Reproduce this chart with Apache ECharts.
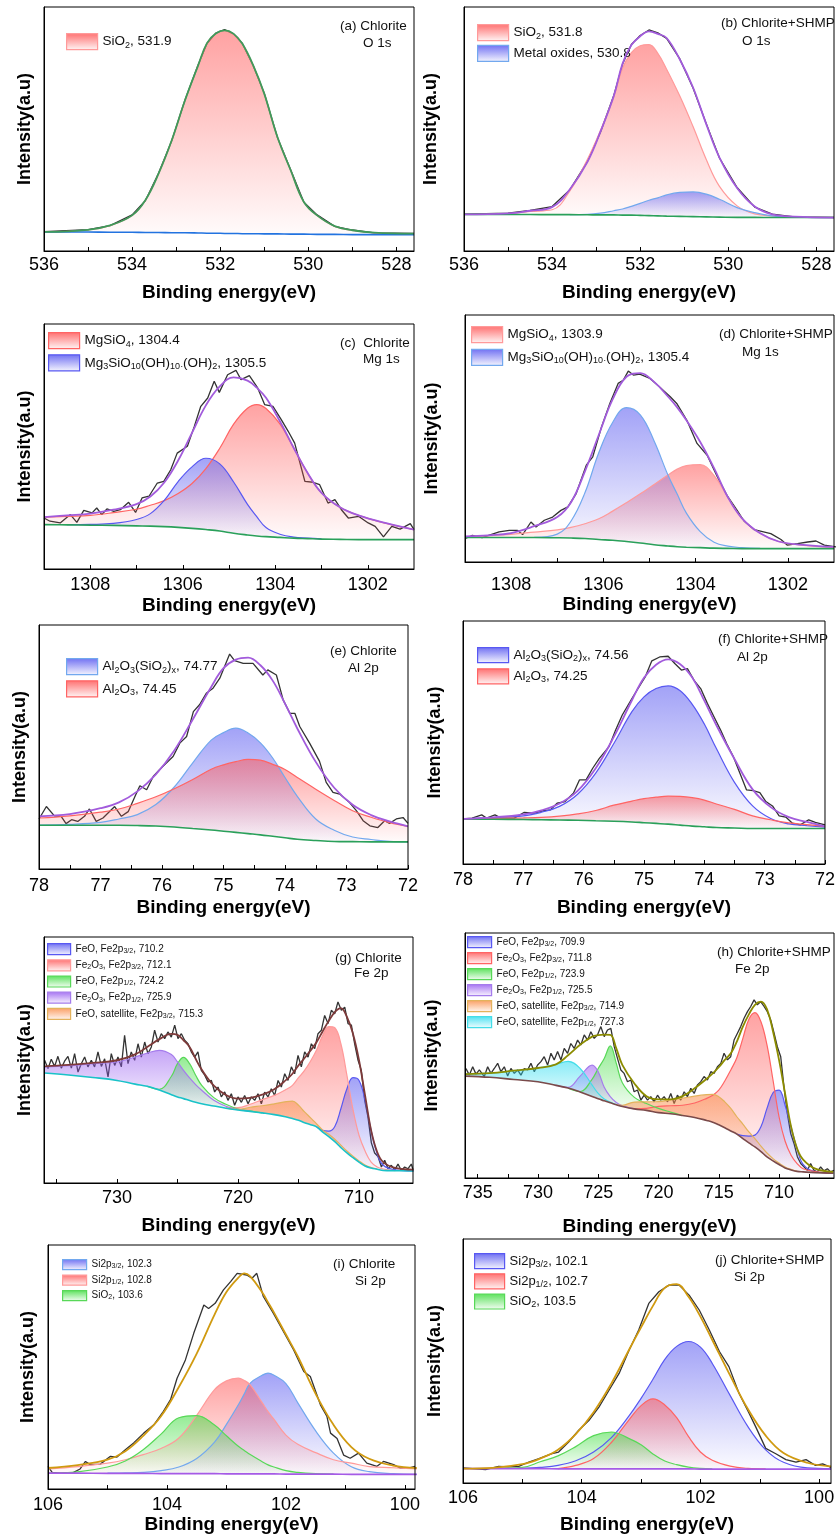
<!DOCTYPE html>
<html>
<head>
<meta charset="utf-8">
<script src="https://cdn.jsdelivr.net/npm/echarts@6/dist/echarts.min.js"></script>
<style>
  html, body { margin: 0; padding: 0; background: #fff; }
  #c { width: 838px; height: 1537px; }
</style>
</head>
<body>
<div id="c"></div>
<script>
// ---------- tick values / labels ----------
const oTicks = [528, 529, 530, 531, 532, 533, 534, 535, 536];
const oLabels = [528, 530, 532, 534, 536];
const mgTicks = [1302, 1303, 1304, 1305, 1306, 1307, 1308];
const mgLabels = [1302, 1304, 1306, 1308];
const alTicks = [72, 72.5, 73, 73.5, 74, 74.5, 75, 75.5, 76, 76.5, 77, 77.5, 78];
const alLabels = [72, 73, 74, 75, 76, 77, 78];
const gTicks = [710, 715, 720, 725, 730, 735];
const gLabels = [710, 720, 730];
const hTicks = [707.5, 710, 712.5, 715, 717.5, 720, 722.5, 725, 727.5, 730, 732.5, 735];
const hLabels = [710, 715, 720, 725, 730, 735];
const siTicks = [100, 101, 102, 103, 104, 105, 106];
const siLabels = [100, 102, 104, 106];

// ---------- (a) Chlorite O 1s ----------
const aE = [536, 535, 534.5, 534, 533.7, 533.4, 533.1, 532.8, 532.5, 532.3, 532.1, 531.9, 531.7, 531.5, 531.25, 531.0, 530.7, 530.4, 530.1, 529.8, 529.4, 529, 528.5, 527.6];
const aBase = [7.8, 7.8, 7.7, 7.7, 7.6, 7.6, 7.5, 7.5, 7.4, 7.3, 7.3, 7.2, 7.2, 7.1, 7.1, 7.0, 7.0, 6.9, 6.9, 6.8, 6.8, 6.7, 6.7, 6.7];
const aEnv = [7.8, 8.7, 10.5, 14.6, 20.8, 31.7, 45.4, 61.7, 76.1, 85.2, 89.1, 90.4, 89.1, 85.0, 76.1, 64.5, 46.7, 33.1, 20.1, 14.6, 10.2, 8.5, 7.5, 7.1];
const aSiO2 = [7.8, 8.6, 10.4, 14.5, 20.7, 31.6, 45.3, 61.6, 76.0, 85.1, 89.0, 90.3, 89.0, 84.9, 76.0, 64.4, 46.6, 33.0, 20.0, 14.5, 10.1, 8.4, 7.4, 7.0];
const aRaw = [[536,7.9],[535,8.8],[534.5,10.4],[534,14.8],[533.7,20.6],[533.4,31.9],[533.1,45.2],[532.8,61.9],[532.5,76.3],[532.3,85.0],[532.1,89.3],[531.9,90.7],[531.7,89.0],[531.5,85.2],[531.25,75.9],[531.0,64.7],[530.7,46.5],[530.4,33.3],[530.1,20.0],[529.8,14.8],[529.4,10.1],[529,8.6],[528.5,7.4],[527.6,7.2]];
const aNames = ['SiO_{2}, 531.9'];

// ---------- (b) Chlorite+SHMP O 1s ----------
const bE = [536, 535, 534.5, 534, 533.6, 533.2, 532.9, 532.6, 532.4, 532.2, 532, 531.8, 531.6, 531.4, 531.1, 530.8, 530.5, 530.2, 529.8, 529.4, 529, 528.5, 527.6];
const bBase = [15.0, 15.0, 14.95, 14.9, 14.9, 14.85, 14.8, 14.8, 14.7, 14.7, 14.6, 14.5, 14.4, 14.3, 14.2, 14.1, 14.0, 13.9, 13.8, 13.8, 13.7, 13.7, 13.7];
const bEnv = [15.0, 15.4, 16.5, 18.0, 25.2, 36.4, 49.0, 63.5, 76.8, 84.4, 88.0, 90.0, 89.0, 87.3, 78.5, 67.0, 52.0, 38.3, 25.8, 18.2, 15.0, 14.1, 13.7];
const bSiO2 = [15.0, 15.3, 16.2, 16.9, 24.5, 37.5, 49.5, 63.1, 75.0, 81.3, 84.1, 84.6, 81.0, 74.5, 63.5, 51.0, 37.5, 26.5, 18.5, 15.2, 14.4, 14.0, 13.7];
const bMetal = [15.0, 15.0, 14.95, 14.9, 14.9, 15.0, 15.5, 16.5, 17.2, 18.3, 19.5, 20.8, 21.8, 23.0, 24.0, 24.2, 23.3, 21.2, 17.8, 15.7, 14.4, 13.9, 13.7];
const bRaw = [[536,15.1],[535,15.5],[534.5,16.6],[534,18.2],[533.6,25.0],[533.2,36.6],[532.9,48.8],[532.6,63.7],[532.4,76.6],[532.2,84.6],[532,88.3],[531.8,90.6],[531.6,89.4],[531.4,87.1],[531.1,78.7],[530.8,66.8],[530.5,52.2],[530.2,38.1],[529.8,26.0],[529.4,18.0],[529,15.1],[528.5,14.0],[527.6,13.8]];
const bNames = ['SiO_{2}, 531.8', 'Metal oxides, 530.8'];

// ---------- (c) Chlorite Mg 1s ----------
const cE = [1309, 1308.5, 1308, 1307.5, 1307, 1306.7, 1306.4, 1306.1, 1305.8, 1305.5, 1305.2, 1304.9, 1304.6, 1304.4, 1304.2, 1303.9, 1303.6, 1303.3, 1303, 1302.6, 1302.2, 1301.6, 1301];
const cBase = [18.1, 18.0, 17.9, 17.8, 17.6, 17.5, 17.3, 17.0, 16.6, 16.1, 15.5, 14.6, 13.9, 13.5, 13.2, 12.9, 12.6, 12.4, 12.2, 12.1, 12.0, 12.0, 12.0];
const cEnv = [21.2, 21.9, 22.6, 24.2, 26.5, 29.6, 35.3, 44.3, 55.6, 66.8, 74.5, 78.2, 76.9, 74.0, 69.9, 60.3, 49.4, 39.2, 31.1, 25.2, 21.9, 18.7, 16.1];
const cMgSiO4 = [21.2, 21.5, 21.9, 23.0, 24.4, 26.0, 27.9, 30.8, 34.9, 41.0, 49.3, 59.1, 65.6, 67.1, 65.5, 59.2, 49.4, 39.2, 31.1, 25.2, 21.9, 18.6, 16.1];
const cMgOH = [18.1, 18.1, 18.2, 18.6, 20.2, 22.6, 28.0, 35.7, 41.7, 45.2, 42.9, 35.5, 26.4, 21.4, 16.9, 14.2, 13.0, 12.6, 12.3, 12.1, 12.0, 12.0, 12.0];
const cRaw = [[1309.0,20.8],[1308.87,19.5],[1308.65,18.8],[1308.43,22.2],[1308.29,19.0],[1308.14,23.9],[1307.96,22.9],[1307.86,24.9],[1307.75,22.2],[1307.64,24.5],[1307.49,23.5],[1307.35,24.2],[1307.17,27.2],[1307.02,23.1],[1306.88,29.0],[1306.73,29.7],[1306.55,35.1],[1306.41,35.8],[1306.26,40.5],[1306.12,47.3],[1305.90,50.1],[1305.75,58.2],[1305.61,66.4],[1305.46,69.8],[1305.32,76.6],[1305.21,72.1],[1305.03,79.3],[1304.85,81.1],[1304.74,77.3],[1304.56,78.9],[1304.38,73.9],[1304.23,67.1],[1304.05,66.4],[1303.87,61.0],[1303.72,56.2],[1303.58,51.4],[1303.36,35.8],[1303.18,35.4],[1303.04,34.4],[1302.86,26.9],[1302.71,28.3],[1302.57,24.2],[1302.42,20.8],[1302.20,21.5],[1301.99,18.8],[1301.84,17.4],[1301.66,13.1],[1301.48,17.4],[1301.30,16.3],[1301.08,18.5],[1301.0,16.1]];
const cNames = ['MgSiO_{4}, 1304.4', 'Mg_{3}SiO_{10}(OH)_{10·}(OH)_{2}, 1305.5'];

// ---------- (d) Chlorite+SHMP Mg 1s ----------
const dE = [1309, 1308.5, 1308, 1307.5, 1307, 1306.7, 1306.4, 1306.1, 1305.8, 1305.5, 1305.2, 1304.9, 1304.6, 1304.4, 1304.2, 1303.9, 1303.6, 1303.3, 1303, 1302.6, 1302.2, 1301.6, 1301];
const dBase = [9.9, 9.9, 9.9, 9.9, 9.8, 9.7, 9.5, 9.1, 8.8, 8.3, 7.7, 7.0, 6.5, 6.2, 6.0, 5.8, 5.6, 5.5, 5.4, 5.4, 5.4, 5.4, 5.4];
const dEnv = [10.4, 10.8, 11.7, 14.5, 18.2, 24.2, 36.7, 51.4, 65.8, 75.0, 76.5, 72.9, 67.0, 62.6, 57.4, 48.6, 38.0, 26.2, 17.8, 11.6, 8.3, 6.8, 6.1];
const dMgSiO4 = [10.1, 10.6, 11.2, 12.1, 13.0, 14.0, 15.5, 17.5, 20.6, 24.0, 27.6, 31.4, 35.2, 37.6, 39.0, 39.4, 35.0, 26.2, 17.8, 11.6, 8.3, 6.6, 5.8];
const dMgOH = [9.9, 9.9, 9.9, 10.0, 11.3, 16.6, 28.0, 44.2, 56.5, 62.5, 59.6, 49.0, 35.2, 27.5, 19.8, 12.3, 8.0, 6.4, 5.8, 5.5, 5.4, 5.4, 5.4];
const dRaw = [[1308.99,9.5],[1308.84,10.8],[1308.63,9.9],[1308.44,11.1],[1308.26,12.2],[1308.04,12.8],[1307.86,12.8],[1307.75,11.1],[1307.57,16.2],[1307.46,14.2],[1307.28,16.9],[1307.10,18.2],[1306.92,20.9],[1306.77,22.3],[1306.59,27.7],[1306.37,39.2],[1306.23,42.6],[1306.04,54.7],[1305.86,64.2],[1305.68,72.3],[1305.57,73.6],[1305.46,77.3],[1305.35,75.7],[1305.21,76.1],[1304.99,74.3],[1304.77,70.7],[1304.55,66.9],[1304.41,64.2],[1304.19,57.4],[1303.97,48.0],[1303.75,43.2],[1303.53,34.5],[1303.32,27.0],[1303.10,20.9],[1302.95,16.6],[1302.73,13.1],[1302.37,11.5],[1302.15,9.1],[1302.01,6.8],[1301.79,7.4],[1301.57,8.1],[1301.39,8.5],[1301.21,6.8],[1300.95,6.1]];
const dNames = ['MgSiO_{4}, 1303.9', 'Mg_{3}SiO_{10}(OH)_{10·}(OH)_{2}, 1305.4'];

// ---------- (e) Chlorite Al 2p ----------
const eE = [78, 77.5, 77, 76.7, 76.4, 76.1, 75.8, 75.5, 75.2, 75, 74.8, 74.6, 74.4, 74.2, 74, 73.8, 73.5, 73.2, 72.9, 72.6, 72.3, 72];
const eBase = [17.9, 17.9, 17.9, 17.9, 17.8, 17.6, 17.2, 16.6, 16.0, 15.5, 15.0, 14.5, 14.0, 13.4, 12.8, 12.2, 11.7, 11.3, 11.2, 11.1, 11.1, 11.1];
const eEnv = [21.6, 22.5, 24.9, 27.3, 31.8, 38.8, 48.6, 61.3, 74.6, 82.3, 85.8, 86.6, 83.5, 77.2, 67.8, 57.6, 43.9, 33.3, 26.3, 22.1, 19.5, 17.5];
const eAlSi = [18.0, 18.3, 19.1, 20.5, 22.3, 26.4, 33.6, 43.5, 52.8, 55.9, 57.7, 55.7, 51.7, 45.5, 37.5, 29.8, 20.5, 15.9, 13.1, 12.1, 11.3, 11.1];
const eAl2O3 = [20.9, 21.8, 23.3, 24.6, 26.9, 29.6, 32.9, 36.7, 40.9, 42.7, 44.0, 44.9, 44.6, 42.9, 40.8, 37.5, 32.7, 28.1, 23.9, 21.2, 19.0, 17.5];
const eRaw = [[78.00,20.5],[77.88,25.6],[77.75,21.8],[77.64,21.6],[77.56,18.6],[77.47,20.2],[77.37,19.5],[77.26,21.6],[77.18,24.6],[77.07,19.5],[76.96,20.9],[76.77,25.6],[76.66,21.6],[76.55,23.5],[76.44,29.7],[76.36,34.1],[76.25,32.5],[76.14,38.0],[76.04,40.7],[75.93,43.4],[75.82,46.1],[75.71,51.6],[75.60,54.3],[75.49,64.5],[75.39,67.3],[75.28,72.0],[75.17,74.1],[75.06,78.2],[74.90,88.1],[74.82,85.4],[74.68,84.3],[74.52,84.3],[74.36,79.5],[74.28,81.6],[74.14,79.5],[74.03,69.3],[73.92,63.8],[73.84,63.8],[73.76,58.4],[73.60,51.6],[73.44,44.2],[73.33,35.5],[73.22,31.4],[73.11,30.7],[72.95,27.2],[72.84,23.9],[72.73,19.8],[72.62,17.7],[72.49,17.0],[72.38,19.8],[72.30,18.7],[72.19,20.5],[72.08,21.1],[72.00,18.7]];
const eNames = ['Al_{2}O_{3}(SiO_{2})_{x}, 74.77', 'Al_{2}O_{3}, 74.45'];

// ---------- (f) Chlorite+SHMP Al 2p ----------
const fE = [78, 77.5, 77, 76.7, 76.4, 76.1, 75.8, 75.5, 75.2, 75, 74.8, 74.6, 74.4, 74.2, 74, 73.8, 73.5, 73.2, 72.9, 72.6, 72.3, 72];
const fBase = [18.5, 18.4, 18.3, 18.2, 18.1, 18.0, 17.8, 17.6, 17.3, 17.0, 16.7, 16.4, 16.0, 15.6, 15.3, 15.0, 14.8, 14.6, 14.6, 14.6, 14.6, 14.6];
const fEnv = [18.6, 19.2, 20.4, 22.1, 24.9, 30.1, 39.4, 52.3, 67.4, 76.6, 82.0, 84.2, 82.2, 76.7, 67.2, 57.1, 43.2, 30.7, 23.4, 19.3, 17.3, 15.5];
const fAlSi = [18.6, 19.1, 19.8, 21.3, 23.7, 28.7, 37.4, 49.6, 62.7, 68.8, 72.2, 73.3, 71.3, 65.7, 57.6, 47.5, 33.6, 23.9, 18.7, 16.5, 15.8, 15.2];
const fAl2O3 = [18.5, 18.8, 19.0, 19.2, 19.7, 20.6, 22.0, 24.2, 25.9, 26.9, 27.5, 27.9, 27.8, 27.3, 26.3, 24.7, 22.5, 19.8, 18.2, 16.9, 16.2, 15.5];
const fRaw = [[78.00,18.6],[77.85,18.9],[77.69,20.2],[77.61,18.9],[77.47,20.2],[77.37,18.9],[77.15,18.9],[76.99,21.2],[76.82,20.9],[76.66,22.0],[76.55,22.3],[76.44,25.0],[76.31,25.7],[76.17,29.1],[76.07,34.6],[75.96,34.6],[75.85,39.4],[75.74,43.5],[75.58,48.3],[75.47,55.1],[75.36,61.3],[75.20,68.1],[74.98,77.0],[74.87,83.6],[74.74,85.2],[74.60,85.5],[74.49,82.5],[74.38,79.8],[74.28,80.4],[74.17,75.6],[74.06,72.2],[73.95,66.1],[73.84,60.6],[73.73,55.1],[73.63,49.6],[73.52,44.2],[73.41,37.3],[73.30,30.5],[73.19,30.2],[73.08,29.4],[72.98,25.7],[72.87,23.9],[72.76,19.8],[72.65,19.3],[72.54,16.8],[72.41,16.1],[72.27,18.2],[72.16,17.1],[72.00,16.1]];
const fNames = ['Al_{2}O_{3}(SiO_{2})_{x}, 74.56', 'Al_{2}O_{3}, 74.25'];

// ---------- (g) Chlorite Fe 2p ----------
const gE = [736, 734, 732, 730, 728.5, 727.5, 726.5, 725.5, 725, 724.5, 724, 723.5, 723, 722, 721, 720, 719, 718, 717, 716, 715.5, 715, 714.5, 714, 713.5, 713, 712.5, 712, 711.5, 711, 710.5, 710, 709.5, 709, 708.5, 708, 707, 705.5];
const gBase = [44.7, 43.9, 42.9, 41.7, 40.2, 39.3, 37.8, 35.9, 35.0, 34.3, 33.5, 32.8, 32.2, 31.3, 30.4, 29.7, 29.1, 28.5, 27.8, 26.8, 26.2, 25.5, 24.5, 23.7, 22.8, 20.7, 18.9, 16.8, 14.4, 12.2, 10.3, 8.5, 6.9, 6.1, 5.6, 5.1, 5.0, 4.9];
const gEnv = [47.4, 48.0, 48.8, 49.9, 52.3, 55.3, 58.5, 60.6, 60.2, 58.0, 55.3, 50.5, 46.1, 39.6, 35.8, 34.3, 34.6, 35.9, 38.1, 42.0, 44.4, 47.8, 50.8, 53.9, 57.3, 61.7, 65.9, 69.5, 71.1, 67.5, 60.7, 49.9, 35.6, 21.4, 12.6, 8.5, 6.1, 5.4];
const gFeO32 = [44.7, 43.9, 42.9, 41.7, 40.2, 39.3, 37.8, 35.9, 35.0, 34.3, 33.5, 32.8, 32.2, 31.3, 30.4, 29.7, 29.1, 28.5, 27.8, 26.8, 26.2, 25.5, 24.5, 23.7, 22.8, 21.4, 21.1, 23.0, 30.2, 38.3, 42.8, 41.7, 33.6, 21.4, 11.9, 7.2, 5.3, 4.9];
const gFe2O332 = [44.7, 43.9, 42.9, 41.7, 40.2, 39.3, 37.8, 35.9, 35.0, 34.3, 33.5, 32.8, 32.2, 31.3, 30.5, 30.6, 32.0, 33.9, 35.6, 38.1, 39.7, 42.8, 45.8, 49.6, 54.2, 60.0, 63.6, 63.1, 56.6, 43.8, 29.9, 19.4, 13.0, 8.5, 6.5, 5.7, 5.0, 4.9];
const gFeO12 = [44.7, 43.9, 42.9, 41.7, 40.2, 39.3, 38.1, 43.4, 48.5, 51.1, 48.5, 43.8, 39.7, 34.7, 32.0, 30.1, 29.3, 28.5, 27.8, 26.8, 26.2, 25.5, 24.5, 23.7, 22.8, 20.7, 18.9, 16.8, 14.4, 12.2, 10.3, 8.5, 6.9, 6.1, 5.6, 5.1, 5.0, 4.9];
const gFe2O312 = [47.2, 47.7, 48.5, 49.2, 51.2, 52.8, 53.9, 52.2, 49.2, 45.8, 42.7, 40.0, 37.7, 33.6, 31.2, 29.9, 29.1, 28.5, 27.8, 26.8, 26.2, 25.5, 24.5, 23.7, 22.8, 20.7, 18.9, 16.8, 14.4, 12.2, 10.3, 8.5, 6.9, 6.1, 5.6, 5.1, 5.0, 4.9];
const gSat32 = [44.7, 43.9, 42.9, 41.7, 40.2, 39.3, 37.8, 35.9, 35.0, 34.3, 33.5, 32.8, 32.2, 31.3, 30.4, 29.9, 30.8, 31.4, 32.2, 33.1, 33.3, 31.6, 28.9, 26.5, 24.0, 21.5, 19.8, 17.8, 15.4, 13.0, 10.9, 9.0, 7.3, 6.3, 5.7, 5.1, 5.0, 4.9];
const gRaw = [[735.98,49.9],[735.70,46.5],[735.43,50.3],[735.15,47.4],[734.88,51.5],[734.60,46.7],[734.33,49.5],[734.05,51.5],[733.77,46.7],[733.50,52.6],[733.22,45.1],[732.95,48.5],[732.67,51.2],[732.40,47.2],[732.12,49.9],[731.85,47.2],[731.57,53.3],[731.29,47.4],[731.02,50.5],[730.74,43.1],[730.47,52.6],[730.19,47.8],[729.92,51.2],[729.64,47.2],[729.37,60.0],[729.09,48.5],[728.82,53.3],[728.54,49.9],[728.26,56.6],[727.99,51.2],[727.71,57.3],[727.44,52.6],[727.16,55.3],[726.89,62.1],[726.61,57.3],[726.34,60.7],[726.06,58.7],[725.79,61.4],[725.51,59.3],[725.23,64.2],[724.96,58.7],[724.68,60.7],[724.41,58.0],[724.13,56.6],[723.86,53.3],[723.58,51.2],[723.31,53.3],[723.03,45.8],[722.75,43.8],[722.48,41.1],[722.20,41.7],[721.93,37.0],[721.65,39.0],[721.38,35.0],[721.10,37.0],[720.83,33.6],[720.55,36.3],[720.28,31.6],[720.00,35.0],[719.72,32.8],[719.45,35.6],[719.17,32.2],[718.90,35.0],[718.62,33.6],[718.35,36.3],[718.07,32.2],[717.80,36.9],[717.52,35.0],[717.25,38.3],[716.97,35.6],[716.69,41.7],[716.42,39.0],[716.14,44.4],[715.87,41.7],[715.59,47.2],[715.32,44.4],[715.04,51.9],[714.77,47.2],[714.49,53.3],[714.21,51.2],[713.94,56.6],[713.66,54.6],[713.39,60.7],[713.11,62.1],[712.84,68.1],[712.56,64.8],[712.29,70.2],[712.01,68.8],[711.74,73.6],[711.46,70.2],[711.18,71.5],[710.91,64.8],[710.63,64.2],[710.36,56.6],[710.08,49.9],[709.81,45.8],[709.53,33.6],[709.26,26.8],[708.98,16.3],[708.71,12.2],[708.43,10.8],[708.15,6.5],[707.88,9.2],[707.60,5.8],[707.33,7.2],[707.05,5.4],[706.78,7.7],[706.50,5.1],[706.23,6.5],[705.95,5.8],[705.68,7.7],[705.54,5.4]];
const gNames = ['FeO, Fe2p_{3/2}, 710.2', 'Fe_{2}O_{3}, Fe2p_{3/2}, 712.1', 'FeO, Fe2p_{1/2}, 724.2', 'Fe_{2}O_{3}, Fe2p_{1/2}, 725.9', 'FeO, satellite, Fe2p_{3/2}, 715.3'];

// ---------- (h) Chlorite+SHMP Fe 2p ----------
const hE = [736, 734, 732, 730, 728.5, 727.5, 726.5, 725.5, 725, 724.5, 724, 723.5, 723, 722, 721, 720, 719, 718, 717, 716, 715.5, 715, 714.5, 714, 713.5, 713, 712.5, 712, 711.5, 711, 710.5, 710, 709.5, 709, 708.5, 708, 707, 705.5];
const hBase = [41.6, 41.1, 40.2, 39.3, 37.8, 36.7, 35.1, 33.3, 32.3, 31.5, 30.7, 29.9, 29.2, 28.2, 27.6, 26.7, 26.2, 25.5, 24.7, 23.5, 22.8, 21.7, 20.5, 19.2, 17.9, 16.1, 14.3, 12.7, 10.8, 8.6, 7.0, 5.5, 4.1, 3.3, 2.7, 2.5, 2.2, 2.0];
const hEnv = [42.4, 42.8, 43.8, 44.9, 46.4, 50.1, 54.4, 57.7, 58.3, 58.5, 58.4, 52.9, 46.2, 38.6, 33.4, 32.1, 32.1, 33.4, 36.6, 40.5, 42.7, 45.2, 48.2, 50.9, 55.7, 61.8, 66.8, 70.7, 72.0, 68.9, 59.8, 48.2, 34.5, 20.9, 12.0, 7.5, 3.8, 2.5];
const hFeO32 = [41.6, 41.1, 40.2, 39.3, 37.8, 36.7, 35.1, 33.3, 32.3, 31.5, 30.7, 29.9, 29.2, 28.2, 27.6, 26.7, 26.2, 25.5, 24.7, 23.5, 22.8, 21.7, 20.5, 19.2, 17.9, 17.3, 17.1, 17.5, 20.9, 28.4, 34.8, 35.9, 29.7, 20.9, 12.0, 5.6, 2.6, 2.0];
const hFe2O332 = [41.6, 41.1, 40.2, 39.3, 37.8, 36.7, 35.1, 33.3, 32.3, 31.5, 30.7, 29.9, 29.2, 28.2, 28.4, 29.2, 29.5, 29.7, 30.6, 32.5, 33.8, 35.9, 39.6, 44.1, 49.1, 57.0, 64.8, 67.5, 63.8, 54.3, 40.0, 25.0, 15.1, 9.3, 5.9, 3.8, 2.6, 2.0];
const hFeO12 = [41.6, 41.1, 40.2, 39.3, 37.8, 36.7, 35.3, 40.4, 44.7, 48.8, 53.9, 46.8, 38.9, 32.9, 30.4, 28.4, 26.9, 25.5, 24.7, 23.5, 22.8, 21.7, 20.5, 19.2, 17.9, 16.1, 14.3, 12.7, 10.8, 8.6, 7.0, 5.5, 4.1, 3.3, 2.7, 2.5, 2.2, 2.0];
const hFe2O312 = [41.6, 41.1, 40.2, 39.3, 37.8, 37.0, 41.6, 46.1, 43.4, 37.0, 33.2, 30.8, 29.5, 28.2, 27.6, 26.7, 26.2, 25.5, 24.7, 23.5, 22.8, 21.7, 20.5, 19.2, 17.9, 16.1, 14.3, 12.7, 10.8, 8.6, 7.0, 5.5, 4.1, 3.3, 2.7, 2.5, 2.2, 2.0];
const hSat32 = [41.6, 41.1, 40.2, 39.3, 37.8, 36.7, 35.1, 33.3, 32.3, 31.5, 30.7, 29.9, 29.7, 31.0, 31.1, 31.2, 31.9, 32.6, 33.4, 34.0, 34.1, 33.2, 31.1, 28.4, 25.0, 22.0, 18.8, 16.1, 13.0, 10.2, 7.9, 6.1, 4.5, 3.5, 2.7, 2.5, 2.2, 2.0];
const hSat12 = [42.4, 42.8, 43.8, 44.9, 46.4, 47.6, 44.7, 37.9, 34.5, 32.2, 31.0, 30.0, 29.2, 28.2, 27.6, 26.7, 26.2, 25.5, 24.7, 23.5, 22.8, 21.7, 20.5, 19.2, 17.9, 16.1, 14.3, 12.7, 10.8, 8.6, 7.0, 5.5, 4.1, 3.3, 2.7, 2.5, 2.2, 2.0];
const hRaw = [[735.97,44.7],[735.69,42.0],[735.41,45.4],[735.14,42.4],[734.86,44.1],[734.45,41.4],[734.17,45.4],[733.90,42.7],[733.62,44.7],[733.34,46.8],[733.07,43.4],[732.79,45.4],[732.51,41.6],[732.24,44.7],[731.96,42.7],[731.69,44.1],[731.41,42.0],[731.13,44.7],[730.86,44.1],[730.58,46.8],[730.30,43.4],[730.03,46.1],[729.75,47.5],[729.48,49.5],[729.20,46.1],[728.92,50.9],[728.65,48.2],[728.37,51.6],[728.09,48.2],[727.82,52.9],[727.54,50.9],[727.27,54.9],[726.99,52.9],[726.71,56.3],[726.44,54.3],[726.16,58.4],[725.88,56.3],[725.61,59.7],[725.33,57.0],[725.06,58.4],[724.78,61.8],[724.50,57.7],[724.23,60.4],[723.95,61.1],[723.67,53.6],[723.40,48.8],[723.12,44.1],[722.85,42.7],[722.57,39.3],[722.29,40.0],[722.02,35.2],[721.74,35.9],[721.46,31.8],[721.19,33.8],[720.91,31.8],[720.64,33.2],[720.36,31.1],[720.08,33.8],[719.81,31.8],[719.53,33.2],[719.25,31.1],[718.98,34.5],[718.70,30.4],[718.43,33.8],[718.15,31.8],[717.87,35.2],[717.60,33.2],[717.32,36.6],[717.04,34.5],[716.77,38.0],[716.49,39.3],[716.22,41.4],[715.94,40.0],[715.66,43.4],[715.39,42.7],[715.11,45.4],[714.83,46.8],[714.56,50.9],[714.28,48.2],[714.01,49.5],[713.73,56.3],[713.45,59.1],[713.18,61.8],[712.90,65.2],[712.62,67.9],[712.35,70.0],[712.07,72.7],[711.80,70.7],[711.52,72.0],[711.24,70.0],[710.97,67.9],[710.69,64.5],[710.41,59.1],[710.14,53.6],[709.86,49.5],[709.59,37.2],[709.31,26.3],[709.03,18.1],[708.76,14.1],[708.48,8.7],[708.20,5.9],[707.93,4.6],[707.65,3.1],[707.38,5.9],[707.10,3.1],[706.82,2.5],[706.55,4.5],[706.27,2.9],[705.99,3.8],[705.72,2.5],[705.44,3.1]];
const hNames = ['FeO, Fe2p_{3/2}, 709.9', 'Fe_{2}O_{3}, Fe2p_{3/2}, 711.8', 'FeO, Fe2p_{1/2}, 723.9', 'Fe_{2}O_{3}, Fe2p_{1/2}, 725.5', 'FeO, satellite, Fe2p_{3/2}, 714.9', 'FeO, satellite, Fe2p_{1/2}, 727.3'];

// ---------- (i) Chlorite Si 2p ----------
const iE = [106, 105.5, 105, 104.7, 104.4, 104.1, 103.8, 103.5, 103.2, 103, 102.8, 102.7, 102.6, 102.4, 102.3, 102.2, 102, 101.8, 101.5, 101.2, 100.9, 100.6, 100.2, 99.8];
const iBase = [6.5, 6.5, 6.4, 6.4, 6.4, 6.3, 6.3, 6.3, 6.3, 6.2, 6.2, 6.2, 6.2, 6.2, 6.2, 6.2, 6.1, 6.1, 6.1, 6.1, 6.0, 6.0, 6.0, 6.0];
const iEnv = [8.6, 9.8, 12.0, 15.5, 21.8, 29.8, 41.8, 55.5, 71.5, 80.7, 86.6, 88.4, 87.1, 80.6, 76.5, 72.3, 63.3, 54.3, 39.0, 26.3, 17.2, 12.4, 9.6, 8.6];
const iSi32 = [6.5, 6.5, 6.5, 6.6, 6.8, 7.5, 9.0, 12.5, 19.2, 26.5, 34.5, 39.0, 43.4, 46.6, 47.5, 46.6, 43.2, 35.3, 23.8, 14.7, 9.1, 7.1, 6.3, 6.0];
const iSi12 = [8.2, 9.2, 10.6, 12.0, 14.1, 16.6, 20.9, 30.2, 40.7, 44.3, 45.4, 44.5, 42.7, 35.4, 31.7, 28.5, 22.1, 18.3, 14.9, 12.0, 10.6, 9.2, 8.7, 8.2];
const iSiO2 = [6.5, 7.0, 9.0, 11.5, 16.1, 22.5, 29.2, 30.1, 26.2, 21.8, 17.5, 15.8, 14.1, 11.2, 9.9, 9.0, 7.5, 6.8, 6.3, 6.1, 6.0, 6.0, 6.0, 6.0];
const iRaw = [[106.00,9.3],[105.93,6.8],[105.79,6.5],[105.57,6.8],[105.46,8.2],[105.37,11.3],[105.29,10.0],[105.12,10.2],[104.95,13.4],[104.84,13.1],[104.70,16.1],[104.56,18.9],[104.39,22.9],[104.22,26.3],[104.06,31.8],[103.94,36.6],[103.83,45.4],[103.69,52.9],[103.55,63.8],[103.38,75.4],[103.30,74.0],[103.19,76.1],[103.05,81.6],[102.93,85.0],[102.82,88.4],[102.66,87.7],[102.57,86.4],[102.49,88.4],[102.38,78.9],[102.21,72.0],[102.04,64.5],[101.87,57.0],[101.70,48.2],[101.59,46.1],[101.42,34.5],[101.31,29.7],[101.25,22.9],[101.14,20.7],[101.03,13.9],[100.92,12.6],[100.78,14.7],[100.64,10.6],[100.47,9.3],[100.36,11.3],[100.19,10.0],[100.08,8.6],[99.94,8.6],[99.83,9.3]];
const iNames = ['Si2p_{3/2}, 102.3', 'Si2p_{1/2}, 102.8', 'SiO_{2}, 103.6'];

// ---------- (j) Chlorite+SHMP Si 2p ----------
const jE = [106, 105.5, 105, 104.7, 104.4, 104.1, 103.8, 103.5, 103.2, 103, 102.8, 102.6, 102.4, 102.2, 102, 101.8, 101.5, 101.2, 100.9, 100.6, 100.2, 99.8];
const jBase = [5.9, 5.9, 5.9, 5.9, 5.8, 5.8, 5.8, 5.8, 5.8, 5.8, 5.8, 5.8, 5.8, 5.8, 5.7, 5.7, 5.7, 5.7, 5.7, 5.7, 5.7, 5.7];
const jEnv = [5.9, 6.2, 7.7, 10.0, 13.6, 20.0, 29.0, 40.8, 54.7, 63.8, 72.6, 80.0, 81.5, 76.3, 68.2, 58.6, 44.1, 30.3, 19.4, 12.3, 8.3, 6.8];
const jSi32 = [5.9, 5.9, 6.0, 6.4, 7.2, 9.1, 12.7, 18.6, 27.6, 34.7, 42.5, 50.7, 56.0, 58.0, 55.7, 49.0, 35.9, 23.1, 13.6, 8.5, 6.2, 5.9];
const jSi12 = [5.9, 5.9, 5.9, 5.9, 5.9, 7.2, 10.0, 16.6, 26.0, 31.7, 34.5, 32.0, 26.8, 19.0, 12.7, 9.3, 6.9, 6.0, 5.8, 5.7, 5.7, 5.7];
const jSiO2 = [5.8, 6.0, 6.4, 8.7, 11.1, 14.9, 19.4, 20.9, 18.2, 15.7, 11.9, 9.0, 7.5, 6.5, 6.0, 5.8, 5.7, 5.7, 5.7, 5.7, 5.7, 5.7];
const jRaw = [[106.00,6.2],[105.62,5.5],[105.40,6.8],[105.23,6.6],[105.06,6.8],[104.89,8.6],[104.72,10.0],[104.50,12.0],[104.39,12.7],[104.22,16.8],[104.05,21.6],[103.88,25.6],[103.71,31.1],[103.54,38.0],[103.37,44.9],[103.20,54.5],[103.04,62.7],[102.87,73.6],[102.70,78.4],[102.53,81.1],[102.36,81.1],[102.19,77.0],[102.02,70.9],[101.85,62.7],[101.68,53.9],[101.52,47.7],[101.35,36.8],[101.18,28.6],[101.07,23.1],[100.90,14.2],[100.73,12.0],[100.56,9.6],[100.39,8.6],[100.22,9.6],[100.06,7.2],[99.94,7.8],[99.80,6.4]];
const jNames = ['Si2p_{3/2}, 102.1', 'Si2p_{1/2}, 102.7', 'SiO_{2}, 103.5'];

// ---------- styles ----------
const FONT = '"Liberation Sans", Arial, Helvetica, sans-serif';
const PAL = {
  red:    ['255,85,85',  '#ff6464'],
  pink:   ['255,85,85',  '#ff9a9a'],
  blue:   ['85,85,240',  '#5858f2'],
  lblue:  ['85,85,240',  '#72a8ee'],
  green:  ['60,220,60',  '#58d858'],
  purple: ['150,90,240', '#a57cec'],
  orange: ['250,140,70', '#e3b25c'],
  cyan:   ['40,220,240', '#44dde8']
};

// layout per panel: box = [left, top, width, height]
const panels = [
  { box: [44, 7, 370, 244], xr: [527.6, 536], ticks: oTicks, labels: oLabels, lm: 5, ng: 32, yg: 10,
    E: aE, base: aBase, env: aEnv, raw: aRaw, envColor: '#3f9a5a', baseColor: '#2273e0',
    comps: [[aSiO2, 'pink']], names: aNames, leg: [66, 33, 31, 16, 4, 13.5],
    note: [['(a) Chlorite', 340, 19], ['O 1s', 363, 36]] },
  { box: [464, 7, 370, 244], xr: [527.6, 536], ticks: oTicks, labels: oLabels, lm: 5, ng: 32, yg: 24,
    E: bE, base: bBase, env: bEnv, raw: bRaw, envColor: '#a25bdc', baseColor: '#2aa05a',
    comps: [[bSiO2, 'pink'], [bMetal, 'lblue']], names: bNames, leg: [477, 24, 31, 16, 3.5, 13.5],
    note: [['(b) Chlorite+SHMP', 721, 16], ['O 1s', 742, 34]] },
  { box: [44, 324, 370, 245], xr: [1301, 1309], ticks: mgTicks, labels: mgLabels, lm: 7, ng: 27, yg: 10,
    E: cE, base: cBase, env: cEnv, raw: cRaw, envColor: '#a25bdc', baseColor: '#2aa05a',
    comps: [[cMgSiO4, 'red'], [cMgOH, 'blue']], names: cNames, leg: [48, 332, 31, 16, 5, 13.5],
    note: [['(c)  Chlorite', 340, 336], ['Mg 1s', 363, 352]] },
  { box: [465, 315, 369, 247], xr: [1301, 1309], ticks: mgTicks, labels: mgLabels, lm: 14, ng: 33, yg: 24,
    E: dE, base: dBase, env: dEnv, raw: dRaw, envColor: '#a25bdc', baseColor: '#2aa05a',
    comps: [[dMgSiO4, 'pink'], [dMgOH, 'lblue']], names: dNames, leg: [471, 326, 31, 16, 5.5, 13.5],
    note: [['(d) Chlorite+SHMP', 719, 327], ['Mg 1s', 742, 345]] },
  { box: [39, 625, 369, 244], xr: [72, 78], ticks: alTicks, labels: alLabels, lm: 8, ng: 29, yg: 10,
    E: eE, base: eBase, env: eEnv, raw: eRaw, envColor: '#a25bdc', baseColor: '#2aa05a',
    comps: [[eAlSi, 'lblue'], [eAl2O3, 'red']], names: eNames, leg: [66, 658, 31, 16, 5, 13.5],
    note: [['(e) Chlorite', 330, 644], ['Al 2p', 348, 661]] },
  { box: [463, 621, 369, 243], xr: [72, 78], ticks: alTicks, labels: alLabels, lm: 7, ng: 34, yg: 19,
    E: fE, base: fBase, env: fEnv, raw: fRaw, envColor: '#a25bdc', baseColor: '#2aa05a',
    comps: [[fAlSi, 'blue'], [fAl2O3, 'red']], names: fNames, leg: [477, 647, 31, 15, 5, 13.5],
    note: [['(f) Chlorite+SHMP', 718, 632], ['Al 2p', 737, 650]] },
  { box: [44, 937, 369, 246], xr: [705.54, 736.03], ticks: gTicks, labels: gLabels, lm: 6, ng: 33, yg: 10,
    E: gE, base: gBase, env: gEnv, raw: gRaw, envColor: '#7d3a3a', baseColor: '#19c2c8',
    comps: [[gFeO32, 'blue'], [gFe2O332, 'pink'], [gFeO12, 'green'], [gFe2O312, 'purple'], [gSat32, 'orange']],
    names: gNames, leg: [47, 943, 23, 11, 4, 10],
    note: [['(g) Chlorite', 335, 951], ['Fe 2p', 354, 966]] },
  { box: [465, 933, 369, 245], xr: [705.44, 736.05], ticks: hTicks, labels: hLabels, lm: 6, ng: 39, yg: 24,
    E: hE, base: hBase, env: hEnv, raw: hRaw, envColor: '#8c8c00', baseColor: '#7a4a4a',
    comps: [[hFeO32, 'blue'], [hFe2O332, 'red'], [hFeO12, 'green'], [hFe2O312, 'purple'], [hSat32, 'orange'], [hSat12, 'cyan']],
    names: hNames, leg: [467, 936, 24, 11, 3.8, 10],
    note: [['(h) Chlorite+SHMP', 717, 945], ['Fe 2p', 735, 962]] },
  { box: [48, 1245, 367, 244], xr: [99.83, 106], ticks: siTicks, labels: siLabels, lm: 7, ng: 26, yg: 11,
    E: iE, base: iBase, env: iEnv, raw: iRaw, envColor: '#d09a10', baseColor: '#a55ae6',
    comps: [[iSi32, 'lblue'], [iSi12, 'pink'], [iSiO2, 'green']], names: iNames, leg: [62, 1259, 24, 10, 4.3, 10],
    note: [['(i) Chlorite', 333, 1257], ['Si 2p', 355, 1274]] },
  { box: [463, 1239, 368, 244], xr: [99.8, 106], ticks: siTicks, labels: siLabels, lm: 6, ng: 32, yg: 19,
    E: jE, base: jBase, env: jEnv, raw: jRaw, envColor: '#d09a10', baseColor: '#a55ae6',
    comps: [[jSi32, 'blue'], [jSi12, 'red'], [jSiO2, 'green']], names: jNames, leg: [474, 1253, 30, 15, 4, 13],
    note: [['(j) Chlorite+SHMP', 715, 1253], ['Si 2p', 734, 1270]] }
];

function plainName(s) { return s.replace(/_\{([^}]*)\}/g, '$1'); }
function richName(s) { return s.replace(/_\{([^}]*)\}/g, '{s|$1}'); }
function fade(rgb, a0, a1) {
  return new echarts.graphic.LinearGradient(0, 0, 0, 1, [
    { offset: 0, color: 'rgba(' + rgb + ',' + a0 + ')' },
    { offset: 1, color: 'rgba(' + rgb + ',' + a1 + ')' }
  ]);
}

const option = {
  animation: false,
  backgroundColor: '#fff',
  grid: [], xAxis: [], yAxis: [], legend: [], series: [], graphic: []
};
const richMap = {};
const SMOOTH = 0.4;

panels.forEach(function (p, gi) {
  option.grid.push({
    left: p.box[0], top: p.box[1], width: p.box[2], height: p.box[3],
    show: true, borderColor: '#000', borderWidth: 1, backgroundColor: 'transparent', z: 10
  });
  option.xAxis.push({
    gridIndex: gi, type: 'value', inverse: true, min: p.xr[0], max: p.xr[1], z: 10,
    axisLine: { show: true, onZero: false, lineStyle: { color: '#000', width: 1 } },
    axisTick: { show: true, inside: true, length: 4, customValues: p.ticks, lineStyle: { color: '#000', width: 1 } },
    axisLabel: { customValues: p.labels, color: '#000', fontSize: 18, fontFamily: FONT, margin: p.lm,
      formatter: function (v) { return String(v); } },
    splitLine: { show: false },
    name: 'Binding energy(eV)', nameLocation: 'middle', nameGap: p.ng,
    nameTextStyle: { color: '#000', fontSize: 19, fontWeight: 'bold', fontFamily: FONT }
  });
  option.yAxis.push({
    gridIndex: gi, type: 'value', min: 0, max: 100, z: 10,
    axisLine: { show: true, onZero: false, lineStyle: { color: '#000', width: 1 } },
    axisTick: { show: false }, axisLabel: { show: false }, splitLine: { show: false },
    name: 'Intensity(a.u)', nameLocation: 'middle', nameGap: p.yg,
    nameTextStyle: { color: '#000', fontSize: 18, fontWeight: 'bold', fontFamily: FONT }
  });

  // raw spectrum (underneath everything)
  option.series.push({
    type: 'line', xAxisIndex: gi, yAxisIndex: gi, data: p.raw, symbol: 'none', silent: true, z: 1,
    lineStyle: { color: '#333', width: 1.3 }
  });

  // fitted components, filled down to the background line via stacking.
  // Intensity is put in column 0 so that it is the stacked dimension.
  const legendData = [];
  p.comps.forEach(function (c, k) {
    const vals = c[0], pal = PAL[c[1]];
    const name = plainName(p.names[k]);
    richMap[name] = richName(p.names[k]);
    let i0 = 0, i1 = p.E.length - 1;
    while (i0 < i1 && vals[i0] - p.base[i0] < 0.15) i0++;
    while (i1 > i0 && vals[i1] - p.base[i1] < 0.15) i1--;
    i0 = Math.max(0, i0 - 1); i1 = Math.min(p.E.length - 1, i1 + 1);
    const idx = [];
    for (let i = i0; i <= i1; i++) idx.push(i);
    const stack = 'p' + gi + '_' + k;
    option.series.push({
      type: 'line', xAxisIndex: gi, yAxisIndex: gi, stack: stack, stackStrategy: 'all',
      encode: { x: 1, y: 0 },
      data: idx.map(function (i) { return [p.base[i], p.E[i]]; }),
      smooth: SMOOTH, symbol: 'none', silent: true, z: 2, lineStyle: { opacity: 0 }
    });
    option.series.push({
      type: 'line', name: name, xAxisIndex: gi, yAxisIndex: gi, stack: stack, stackStrategy: 'all',
      encode: { x: 1, y: 0 },
      data: idx.map(function (i) { return [Math.max(0, vals[i] - p.base[i]), p.E[i]]; }),
      smooth: SMOOTH, symbol: 'none', silent: true, z: 2,
      itemStyle: { color: pal[1] },
      lineStyle: { color: pal[1], width: 1.2 },
      areaStyle: { color: fade(pal[0], 0.78, 0.03) }
    });
    legendData.push({
      name: name,
      itemStyle: { color: fade(pal[0], 0.85, 0.05), borderColor: pal[1], borderWidth: 1.2 }
    });
  });

  // background and envelope
  option.series.push({
    type: 'line', xAxisIndex: gi, yAxisIndex: gi, data: p.E.map(function (e, i) { return [e, p.base[i]]; }),
    smooth: SMOOTH, symbol: 'none', silent: true, z: 3, lineStyle: { color: p.baseColor, width: 1.6 }
  });
  option.series.push({
    type: 'line', xAxisIndex: gi, yAxisIndex: gi, data: p.E.map(function (e, i) { return [e, p.env[i]]; }),
    smooth: SMOOTH, symbol: 'none', silent: true, z: 4, lineStyle: { color: p.envColor, width: 1.8 }
  });

  const L = p.leg;
  option.legend.push({
    left: L[0], top: L[1], orient: 'vertical', padding: 0, itemWidth: L[2], itemHeight: L[3], itemGap: L[4],
    icon: 'rect', selectedMode: false, data: legendData,
    formatter: function (n) { return richMap[n]; },
    textStyle: {
      fontFamily: FONT, fontSize: L[5], color: '#111', lineHeight: L[3],
      rich: { s: { fontFamily: FONT, fontSize: Math.round(L[5] * 0.68), color: '#111', lineHeight: Math.round(L[3] * 0.45), verticalAlign: 'bottom' } }
    }
  });

  p.note.forEach(function (n) {
    option.graphic.push({
      type: 'text', left: n[1], top: n[2], silent: true, z: 20,
      style: { text: n[0], font: '13.5px ' + FONT, fill: '#111' }
    });
  });
});

const chart = echarts.init(document.getElementById('c'), null, { renderer: 'canvas', width: 838, height: 1537 });
chart.setOption(option);
</script>
</body>
</html>
